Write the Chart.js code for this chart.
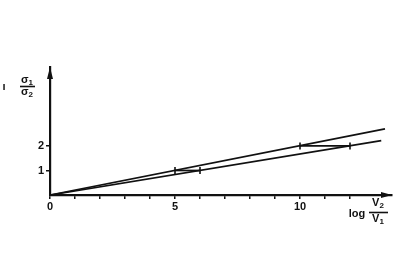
<!DOCTYPE html>
<html lang="en">
<head>
    <meta charset="UTF-8">
    <title>sigma ratio vs log V2/V1</title>
    <script src="https://cdn.jsdelivr.net/npm/chart.js"></script>
    <style>
        html, body { margin: 0; padding: 0; background: #fff; }
        #chartContainer { width: 400px; height: 259px; }
    </style>
</head>
<body>

    <div id="chartContainer">
        <canvas id="ratioChart"></canvas>
    </div>

    <script>
        // data
        const upperLine = [[0, 0], [13.4, 2.7]];
        const lowerLine = [[0, 0], [13.25, 2.22]];
        const stepLow = [[5, 1], [6, 1]];
        const stepHigh = [[10, 2], [12, 2]];
        const xTicks = [0, 1, 2, 3, 4, 5, 6, 7, 8, 9, 10, 11, 12];
        const xLabels = [0, 5, 10];
        const yTicks = [1, 2];

        const ink = '#111';
        const font = { family: 'Liberation Sans', size: 11, weight: 'bold' };

        function toPoints(arr) {
            return arr.map(p => ({ x: p[0], y: p[1] }));
        }

        // letter with a small index below, centred on x
        function subText(ctx, letter, idx, x, y) {
            ctx.font = 'bold 11px "Liberation Sans"';
            const w1 = ctx.measureText(letter).width;
            ctx.font = 'bold 8px "Liberation Sans"';
            const w2 = ctx.measureText(idx).width;
            const start = x - (w1 + w2) / 2;
            ctx.textAlign = 'left';
            ctx.font = 'bold 11px "Liberation Sans"';
            ctx.fillText(letter, start, y);
            ctx.font = 'bold 8px "Liberation Sans"';
            ctx.fillText(idx, start + w1, y + 3);
        }

        // arrows + axis titles drawn on top
        const axisDecor = {
            id: 'axisDecor',
            afterDraw(chart) {
                const ctx = chart.ctx;
                const a = chart.chartArea;
                ctx.save();
                ctx.fillStyle = ink;
                // x arrow
                ctx.beginPath();
                ctx.moveTo(a.right, a.bottom);
                ctx.lineTo(a.right - 11, a.bottom - 3);
                ctx.lineTo(a.right - 11, a.bottom + 3);
                ctx.closePath();
                ctx.fill();
                // y arrow
                ctx.beginPath();
                ctx.moveTo(a.left, a.top);
                ctx.lineTo(a.left - 3, a.top + 12);
                ctx.lineTo(a.left + 3, a.top + 12);
                ctx.closePath();
                ctx.fill();

                ctx.textBaseline = 'middle';
                ctx.lineWidth = 1.6;
                ctx.strokeStyle = ink;

                // y title: ı sigma1 / sigma2
                ctx.textAlign = 'center';
                ctx.font = 'bold 11px "Liberation Sans"';
                ctx.fillText('ı', 4, 87);
                subText(ctx, 'σ', '1', 27, 80);
                subText(ctx, 'σ', '2', 27, 92);
                ctx.beginPath();
                ctx.moveTo(20, 86.5);
                ctx.lineTo(35, 86.5);
                ctx.stroke();

                // x title: log V2 / V1
                ctx.textAlign = 'center';
                ctx.font = 'bold 11px "Liberation Sans"';
                ctx.fillText('log', 357, 214);
                subText(ctx, 'V', '2', 378, 203);
                subText(ctx, 'V', '1', 378, 219);
                ctx.beginPath();
                ctx.moveTo(369, 212.5);
                ctx.lineTo(388, 212.5);
                ctx.stroke();
                ctx.restore();
            }
        };

        const lineStyle = {
            showLine: true,
            borderColor: ink,
            borderWidth: 1.7,
            pointRadius: 0,
            fill: false
        };

        const stepStyle = {
            showLine: true,
            borderColor: ink,
            borderWidth: 1.7,
            pointStyle: 'line',
            rotation: 90,
            pointRadius: 3.5,
            pointBorderWidth: 1.6,
            pointBorderColor: ink,
            fill: false
        };

        const ctx = document.getElementById('ratioChart').getContext('2d');
        new Chart(ctx, {
            type: 'scatter',
            data: {
                datasets: [
                    Object.assign({ data: toPoints(upperLine) }, lineStyle),
                    Object.assign({ data: toPoints(lowerLine) }, lineStyle),
                    Object.assign({ data: toPoints(stepLow) }, stepStyle),
                    Object.assign({ data: toPoints(stepHigh) }, stepStyle)
                ]
            },
            options: {
                responsive: true,
                maintainAspectRatio: false,
                animation: false,
                layout: { padding: { top: 67, right: 8, left: 0, bottom: 0 } },
                plugins: {
                    legend: { display: false },
                    tooltip: { enabled: false }
                },
                scales: {
                    x: {
                        type: 'linear',
                        min: 0,
                        max: 13.68,
                        afterBuildTicks: scale => {
                            scale.ticks = xTicks.map(v => ({ value: v }));
                        },
                        afterFit: scale => { scale.height = 64; },
                        ticks: {
                            color: ink,
                            font: font,
                            padding: 1,
                            maxRotation: 0,
                            autoSkip: false,
                            callback: v => xLabels.includes(v) ? String(v) : ''
                        },
                        grid: { drawOnChartArea: false, tickLength: 4, color: ink, lineWidth: 1.5 },
                        border: { color: ink, width: 2.2 }
                    },
                    y: {
                        type: 'linear',
                        min: 0,
                        max: 5.22,
                        afterBuildTicks: scale => {
                            scale.ticks = yTicks.map(v => ({ value: v }));
                        },
                        afterFit: scale => { scale.width = 50; },
                        ticks: {
                            color: ink,
                            font: font,
                            padding: 2,
                            autoSkip: false,
                            callback: v => String(v)
                        },
                        grid: { drawOnChartArea: false, tickLength: 4, color: ink, lineWidth: 1.5 },
                        border: { color: ink, width: 2.2 }
                    }
                }
            },
            plugins: [axisDecor]
        });
    </script>

</body>
</html>
